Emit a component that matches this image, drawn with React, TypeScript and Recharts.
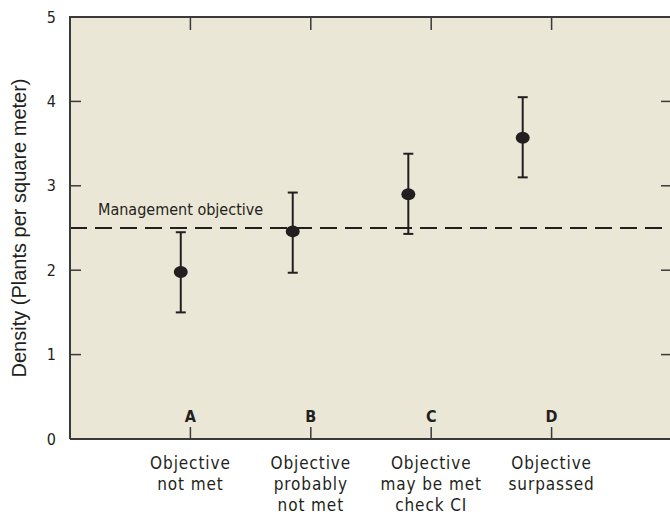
import React from 'react';
import {
  ComposedChart,
  Scatter,
  ErrorBar,
  XAxis,
  YAxis,
  ReferenceArea,
  ReferenceLine,
} from 'recharts';

const categories = ['A', 'B', 'C', 'D'];
const categoryLabels = [
  ['Objective', 'not met'],
  ['Objective', 'probably', 'not met'],
  ['Objective', 'may be met', 'check CI'],
  ['Objective', 'surpassed'],
];
const pointX = [0.92, 1.85, 2.81, 3.76];
const density = [1.98, 2.46, 2.9, 3.57];
const ciLow = [1.5, 1.97, 2.43, 3.1];
const ciHigh = [2.45, 2.92, 3.38, 4.05];
const objective = 2.5;
const yTicks = [0, 1, 2, 3, 4, 5];
const xTicks = [1, 2, 3, 4];
const X_MAX = 5;

const points = categories.map((c, i) => ({
  name: c,
  x: pointX[i],
  y: density[i],
  err: [density[i] - ciLow[i], ciHigh[i] - density[i]],
}));

const FONT = "'DejaVu Sans Condensed', 'Liberation Sans Narrow', 'Liberation Sans', sans-serif";
const INK = '#231f20';
const AXIS = '#3a3a3a';
const CHART_W = 690;
const MARGIN = { top: 17, right: 17, left: 0, bottom: 0 };
const Y_AXIS_W = 70;

const LeftTick = (props: any) => {
  const { x, y, payload } = props;
  const v = Number(payload.value);
  return (
    <g>
      {v > 0 && v < 5 && <line x1={x} x2={x + 11} y1={y} y2={y} stroke={AXIS} strokeWidth={1.5} />}
      <text x={x - 14} y={y} textAnchor="end" dominantBaseline="central" fontFamily={FONT} fontSize={16} fill={INK}>
        {v}
      </text>
    </g>
  );
};

const RightTick = (props: any) => {
  const { x, y } = props;
  return <line x1={x - 11} x2={x} y1={y} y2={y} stroke={AXIS} strokeWidth={1.5} />;
};

const BottomTick = (props: any) => {
  const { x, y, payload } = props;
  const i = xTicks.indexOf(Number(payload.value));
  const lines = categoryLabels[i] || [];
  return (
    <g>
      <line x1={x} x2={x} y1={y} y2={y - 12} stroke={AXIS} strokeWidth={1.5} />
      <text x={x} y={y - 23} textAnchor="middle" dominantBaseline="central" fontFamily={FONT} fontSize={16} fontWeight="bold" fill={INK}>
        {categories[i]}
      </text>
      {lines.map((t, k) => (
        <text
          key={k}
          x={x}
          y={y + 24 + k * 21}
          textAnchor="middle"
          dominantBaseline="central"
          fontFamily={FONT}
          fontSize={17}
          letterSpacing={0.9}
          fill={INK}
        >
          {t}
        </text>
      ))}
    </g>
  );
};

const Dot = (props: any) => {
  const { cx, cy } = props;
  return <ellipse cx={cx} cy={cy} rx={7} ry={6} fill={INK} />;
};

const Nothing = () => <g />;

// label of the objective line; it also carries the top frame and its inward ticks
const ObjectiveLabel = (props: any) => {
  const { viewBox } = props;
  const left = viewBox.x;
  const w = viewBox.width;
  const top = MARGIN.top;
  return (
    <g>
      <line x1={left - 1} x2={left + w + 4} y1={top} y2={top} stroke={AXIS} strokeWidth={2} />
      {xTicks.map((t) => {
        const tx = left + (t / X_MAX) * w;
        return <line key={t} x1={tx} x2={tx} y1={top} y2={top + 13} stroke={AXIS} strokeWidth={1.5} />;
      })}
      <text x={left + 28} y={viewBox.y - 13} fontFamily={FONT} fontSize={16} fill={INK}>
        Management objective
      </text>
    </g>
  );
};

export default function App() {
  return (
    <div style={{ position: 'absolute', left: 0, top: 0, width: 670, height: 515, overflow: 'hidden', background: '#fff' }}>
      <ComposedChart width={CHART_W} height={515} margin={MARGIN}>
        <ReferenceArea x1={0} x2={X_MAX} y1={0} y2={5} fill="#ebe7d6" fillOpacity={1} stroke="none" ifOverflow="visible" />
        <XAxis
          type="number"
          dataKey="x"
          domain={[0, X_MAX]}
          ticks={xTicks}
          height={76}
          tickSize={0}
          tickMargin={0}
          tickLine={false}
          axisLine={{ stroke: AXIS, strokeWidth: 2 }}
          tick={<BottomTick />}
          interval={0}
        />
        <YAxis
          type="number"
          dataKey="y"
          domain={[0, 5]}
          ticks={yTicks}
          width={Y_AXIS_W}
          tickSize={0}
          tickMargin={0}
          tickLine={false}
          axisLine={{ stroke: AXIS, strokeWidth: 2 }}
          tick={<LeftTick />}
          interval={0}
          label={{
            value: 'Density (Plants per square meter)',
            angle: -90,
            position: 'insideLeft',
            offset: 19,
            style: { textAnchor: 'middle', fontFamily: "'Liberation Sans', Arial, sans-serif", fontSize: 20, fill: INK },
          }}
        />
        <YAxis
          yAxisId="right"
          orientation="right"
          type="number"
          dataKey="y"
          domain={[0, 5]}
          ticks={[1, 2, 3, 4]}
          width={1}
          tickSize={0}
          tickMargin={0}
          tickLine={false}
          axisLine={false}
          tick={<RightTick />}
          interval={0}
        />
        <ReferenceLine
          y={objective}
          stroke={INK}
          strokeWidth={2}
          strokeDasharray="17 8"
          label={<ObjectiveLabel />}
        />
        <Scatter data={points} dataKey="y" shape={<Dot />} isAnimationActive={false}>
          <ErrorBar dataKey="err" direction="y" width={5} stroke={INK} strokeWidth={2} />
        </Scatter>
        <Scatter
          data={points}
          dataKey="y"
          yAxisId="right"
          shape={<Nothing />}
          legendType="none"
          isAnimationActive={false}
        />
      </ComposedChart>
    </div>
  );
}
